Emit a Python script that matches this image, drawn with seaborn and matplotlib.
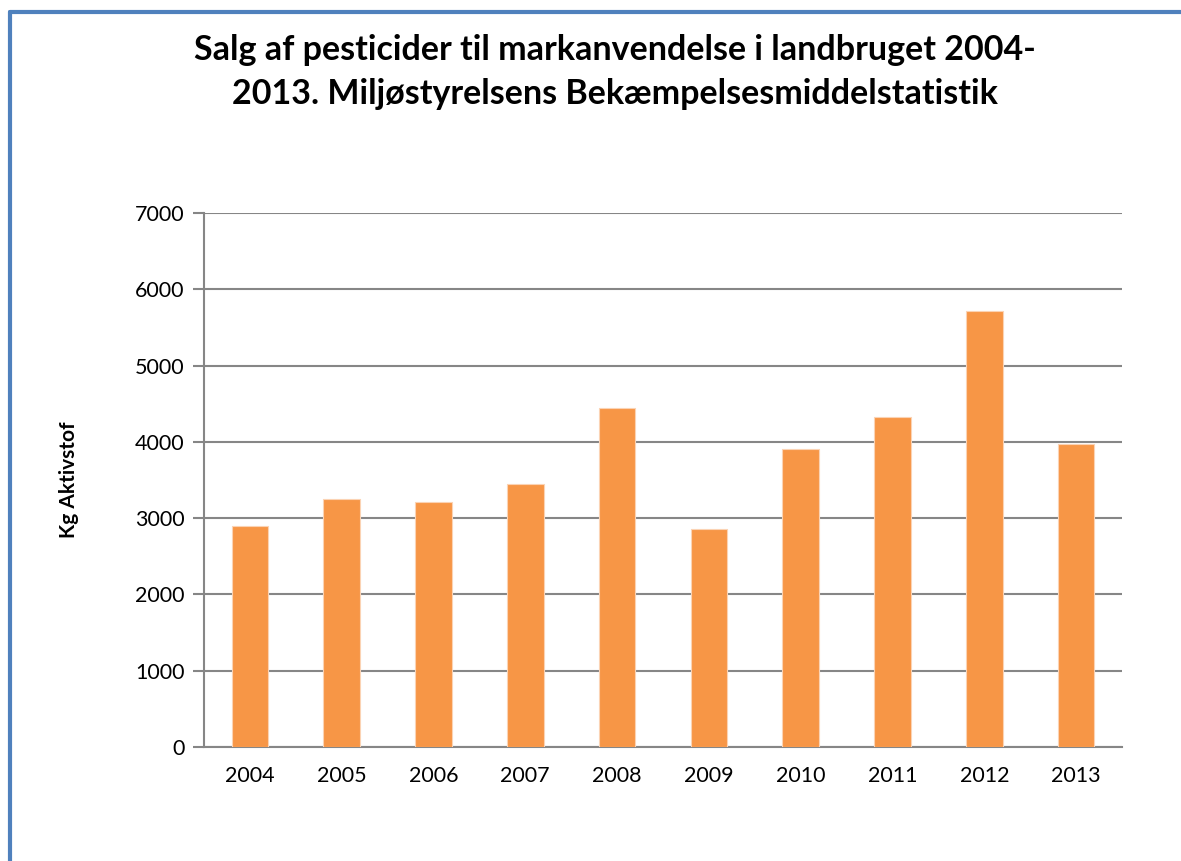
"""Salg af pesticider til markanvendelse i landbruget 2004-2013 (bar chart)."""

import matplotlib as mpl
import matplotlib.pyplot as plt
import numpy as np
import pandas as pd
import seaborn as sns
from matplotlib.lines import Line2D

years = ["2004", "2005", "2006", "2007", "2008", "2009", "2010", "2011", "2012", "2013"]
kg_aktivstof = [2895, 3246, 3211, 3443, 4443, 2861, 3902, 4329, 5718, 3967]
y_ticks = [0, 1000, 2000, 3000, 4000, 5000, 6000, 7000]

TITLE = ("Salg af pesticider til markanvendelse i landbruget 2004-\n"
         "2013. Miljøstyrelsens Bekæmpelsesmiddelstatistik")
BAR_COLOR = "#F79646"
GRID_COLOR = "#868686"
BORDER_COLOR = "#4F81BD"

sns.set_style("white")
mpl.rcParams["font.family"] = ["Lato", "DejaVu Sans"]
mpl.rcParams["text.color"] = "black"
mpl.rcParams["axes.labelcolor"] = "black"
mpl.rcParams["xtick.labelcolor"] = "black"
mpl.rcParams["ytick.labelcolor"] = "black"


def main() -> None:
    df = pd.DataFrame({"year": years, "kg": kg_aktivstof})

    fig = plt.figure(figsize=(11.81, 8.61), dpi=100)
    ax = fig.add_axes([204 / 1181, (861 - 747) / 861, 918 / 1181, 534 / 861])

    sns.barplot(data=df, x="year", y="kg", color=BAR_COLOR, saturation=1,
                width=0.4, edgecolor="#FBD3B4", linewidth=0.8, ax=ax, zorder=3)

    ax.set_ylim(y_ticks[0], y_ticks[-1])
    ax.set_xlim(-0.5, len(years) - 0.5)
    ax.set_yticks(y_ticks)
    ax.yaxis.grid(True, color=GRID_COLOR, linewidth=1.5)
    ax.set_axisbelow(True)

    # Excel-style tick marks between categories
    ax.set_xticks(np.arange(-0.5, len(years), 1), minor=True)
    ax.tick_params(axis="x", which="major", length=0, pad=14, labelsize=15.5)
    ax.tick_params(axis="x", which="minor", length=8, width=1.5,
                   color=GRID_COLOR, direction="out")
    ax.tick_params(axis="y", length=8, width=1.5, color=GRID_COLOR,
                   direction="out", pad=6, labelsize=15.5, left=True)

    for side in ("top", "right"):
        ax.spines[side].set_visible(False)
    for side in ("left", "bottom"):
        ax.spines[side].set_color(GRID_COLOR)
        ax.spines[side].set_linewidth(1.5)

    ax.set_xlabel("")
    ax.set_ylabel("Kg Aktivstof", fontsize=15, fontweight="bold", labelpad=40)

    fig.text(615 / 1181, 1 - 72 / 861, TITLE, ha="center", va="center",
             fontsize=24.5, fontweight="bold", linespacing=1.45)

    # blue frame on the left and top edges
    fig.add_artist(Line2D([10 / 1181, 10 / 1181], [0, 1 - 12 / 861],
                          transform=fig.transFigure, color=BORDER_COLOR, linewidth=3))
    fig.add_artist(Line2D([10 / 1181, 1], [1 - 12 / 861, 1 - 12 / 861],
                          transform=fig.transFigure, color=BORDER_COLOR, linewidth=3))

    fig.savefig("out.png", dpi=100)


if __name__ == "__main__":
    main()
